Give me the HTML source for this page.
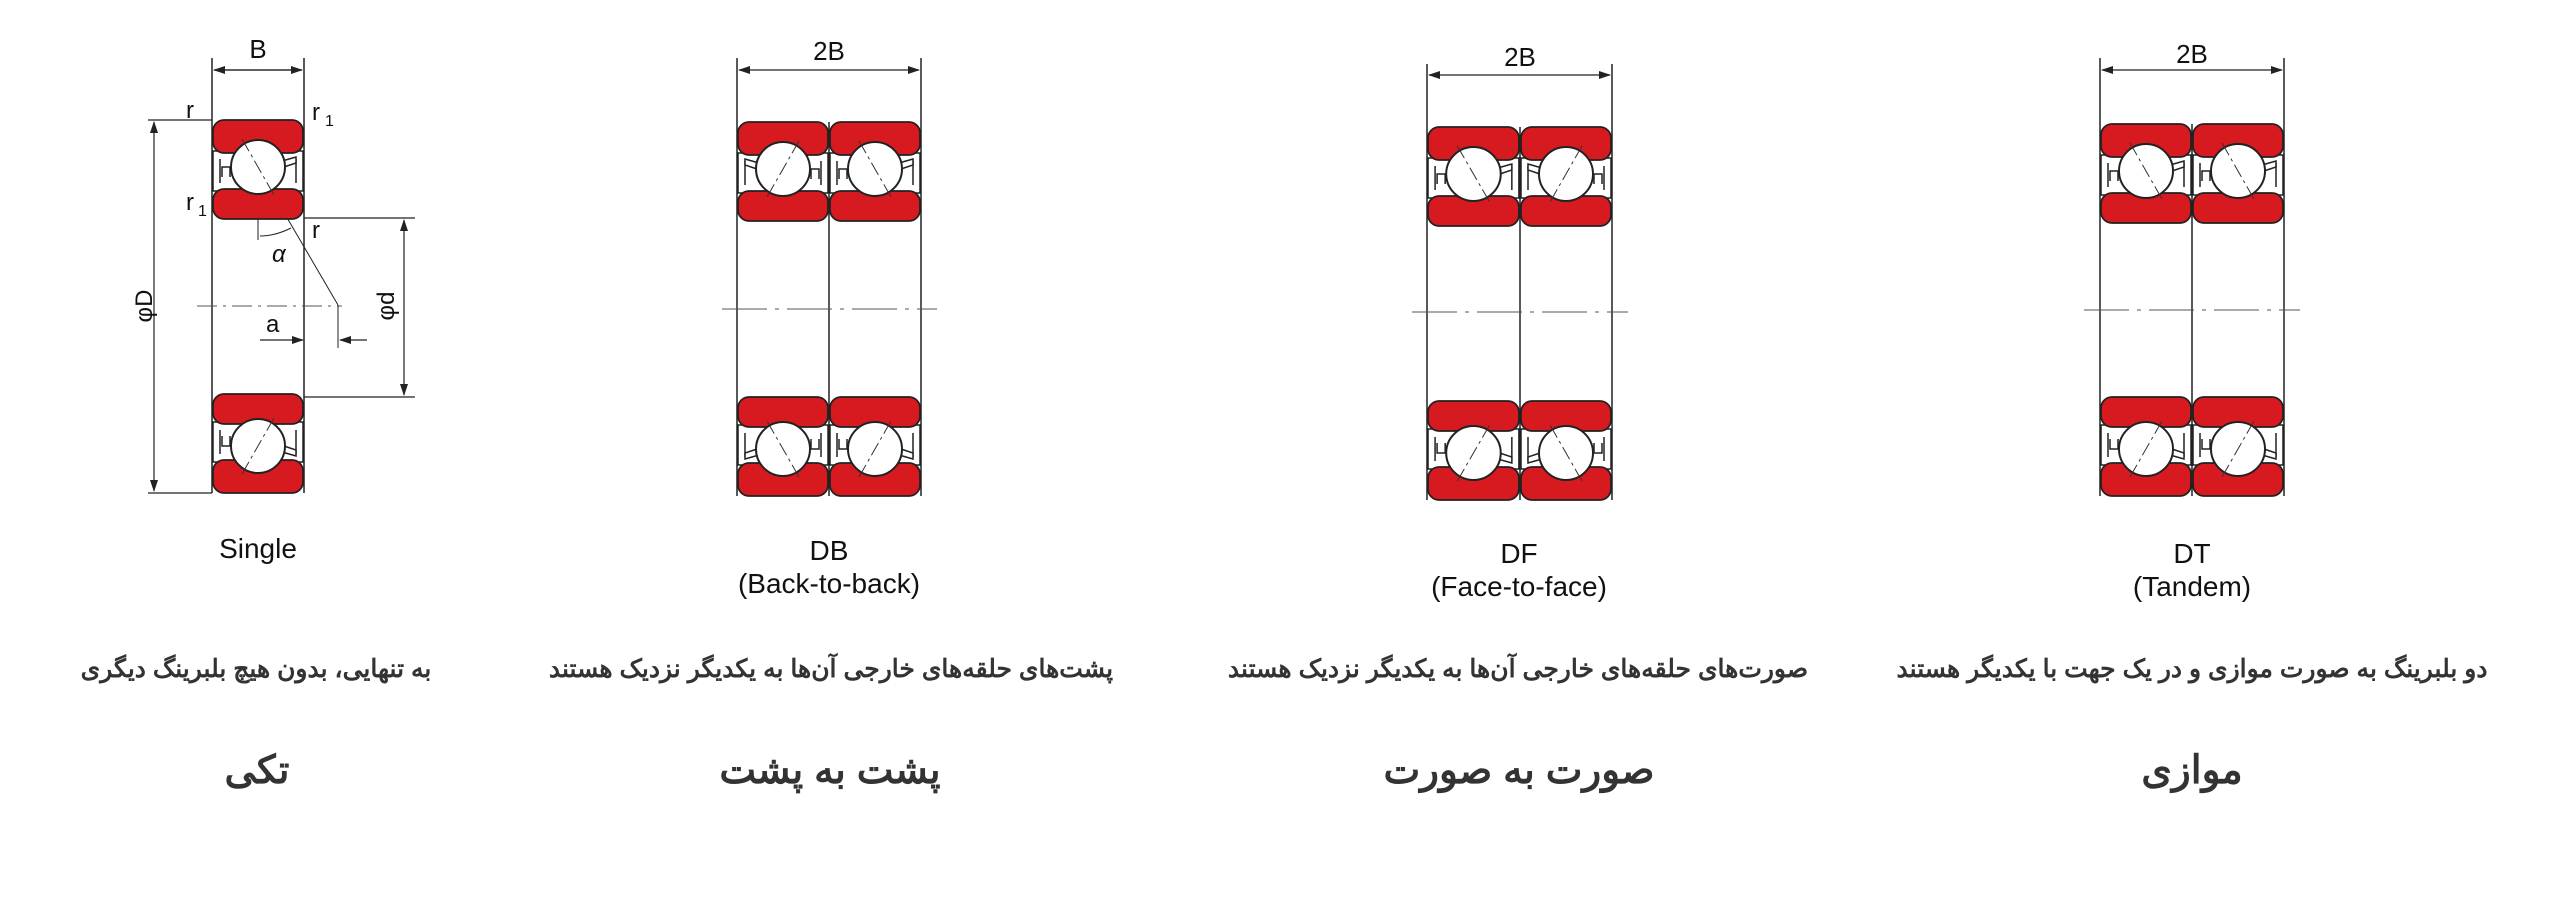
<!DOCTYPE html>
<html><head><meta charset="utf-8"><style>
html,body{margin:0;padding:0;background:#fff;}
body{width:2560px;height:910px;position:relative;overflow:hidden;font-family:"Liberation Sans",sans-serif;}
.t{position:absolute;transform:translateX(-50%);white-space:nowrap;color:#111;text-align:center;}
.lab{font-size:28px;line-height:33px;}
.fa{font-family:"Liberation Sans","Noto Sans CJK SC",sans-serif;direction:rtl;color:#333;}
.s{font-size:25px;font-weight:bold;top:654px;}
.h{font-size:39px;font-weight:bold;top:748px;}
</style></head><body>
<svg width="2560" height="910" style="position:absolute;left:0;top:0" xmlns="http://www.w3.org/2000/svg">
<defs>
<marker id="ar" markerWidth="12" markerHeight="8" refX="11" refY="4" orient="auto" markerUnits="userSpaceOnUse"><path d="M0,0 L12,4 L0,8 z" fill="#222"/></marker>
<g id="secA">
<rect x="1" y="32" width="90" height="40" fill="#fff" stroke="#222" stroke-width="1.5"/>
<path d="M8,40 v24 M84,40 v24" stroke="#222" stroke-width="1.5" fill="none"/>
<path d="M70,42 l14,-4 v6 l-12,4 z M10,58 v-10 h8 v10" stroke="#222" stroke-width="1.5" fill="#fff"/>
<rect x="1" y="1" width="90" height="33" rx="11" fill="#d71920" stroke="#222" stroke-width="1.8"/>
<rect x="1" y="70" width="90" height="30" rx="11" fill="#d71920" stroke="#222" stroke-width="1.8"/>
<circle cx="46" cy="48" r="27" fill="#fff" stroke="#222" stroke-width="2"/>
<path d="M30,20 L62,76" stroke="#333" stroke-width="1" stroke-dasharray="14,4,3,4"/>
</g>
<g id="secB"><use href="#secA" transform="translate(92,0) scale(-1,1)"/></g>
</defs>
<g stroke="#222" stroke-width="1.5" fill="none">
<!-- Single -->
<line x1="212" y1="120" x2="212" y2="493"/><line x1="304" y1="120" x2="304" y2="493"/>
<line x1="212" y1="58" x2="212" y2="120"/><line x1="304" y1="58" x2="304" y2="120"/>
<line x1="214" y1="70" x2="302" y2="70" marker-end="url(#ar)" stroke-width="1.2"/>
<line x1="302" y1="70" x2="214" y2="70" marker-end="url(#ar)" stroke-width="1.2"/>
<line x1="148" y1="120" x2="212" y2="120" stroke-width="1.2"/><line x1="148" y1="493" x2="212" y2="493" stroke-width="1.2"/>
<line x1="154" y1="300" x2="154" y2="122" marker-end="url(#ar)" stroke-width="1.2"/>
<line x1="154" y1="300" x2="154" y2="491" marker-end="url(#ar)" stroke-width="1.2"/>
<line x1="304" y1="218" x2="415" y2="218" stroke-width="1.2"/><line x1="304" y1="397" x2="415" y2="397" stroke-width="1.2"/>
<line x1="404" y1="300" x2="404" y2="220" marker-end="url(#ar)" stroke-width="1.2"/>
<line x1="404" y1="300" x2="404" y2="395" marker-end="url(#ar)" stroke-width="1.2"/>
<line x1="197" y1="306" x2="342" y2="306" stroke="#555" stroke-width="1" stroke-dasharray="20,6,3,6"/>
<line x1="258" y1="168" x2="338" y2="305" stroke-width="1"/>
<line x1="338" y1="305" x2="338" y2="348" stroke-width="1"/>
<line x1="260" y1="340" x2="303" y2="340" marker-end="url(#ar)" stroke-width="1.2"/>
<line x1="367" y1="340" x2="340" y2="340" marker-end="url(#ar)" stroke-width="1.2"/>
<line x1="258" y1="218" x2="258" y2="240" stroke-width="1"/>
<path d="M260,236 Q275,236 291,228" stroke-width="1"/>
<!-- DB -->
<line x1="737" y1="122" x2="737" y2="496"/><line x1="829" y1="122" x2="829" y2="496"/><line x1="921" y1="122" x2="921" y2="496"/>
<line x1="737" y1="58" x2="737" y2="122"/><line x1="921" y1="58" x2="921" y2="122"/>
<line x1="830" y1="70" x2="739" y2="70" marker-end="url(#ar)" stroke-width="1.2"/><line x1="830" y1="70" x2="919" y2="70" marker-end="url(#ar)" stroke-width="1.2"/>
<line x1="722" y1="309" x2="937" y2="309" stroke="#555" stroke-width="1" stroke-dasharray="45,8,4,8"/>
<!-- DF -->
<line x1="1427" y1="127" x2="1427" y2="500"/><line x1="1520" y1="127" x2="1520" y2="500"/><line x1="1612" y1="127" x2="1612" y2="500"/>
<line x1="1427" y1="64" x2="1427" y2="127"/><line x1="1612" y1="64" x2="1612" y2="127"/>
<line x1="1520" y1="75" x2="1429" y2="75" marker-end="url(#ar)" stroke-width="1.2"/><line x1="1520" y1="75" x2="1610" y2="75" marker-end="url(#ar)" stroke-width="1.2"/>
<line x1="1412" y1="312" x2="1628" y2="312" stroke="#555" stroke-width="1" stroke-dasharray="45,8,4,8"/>
<!-- DT -->
<line x1="2100" y1="124" x2="2100" y2="496"/><line x1="2192" y1="124" x2="2192" y2="496"/><line x1="2284" y1="124" x2="2284" y2="496"/>
<line x1="2100" y1="58" x2="2100" y2="124"/><line x1="2284" y1="58" x2="2284" y2="124"/>
<line x1="2192" y1="70" x2="2102" y2="70" marker-end="url(#ar)" stroke-width="1.2"/><line x1="2192" y1="70" x2="2282" y2="70" marker-end="url(#ar)" stroke-width="1.2"/>
<line x1="2084" y1="310" x2="2300" y2="310" stroke="#555" stroke-width="1" stroke-dasharray="45,8,4,8"/>
</g>
<!-- sections -->
<use href="#secA" transform="translate(212,119)"/>
<use href="#secA" transform="translate(212,494) scale(1,-1)"/>
<use href="#secB" transform="translate(737,121)"/>
<use href="#secA" transform="translate(829,121)"/>
<use href="#secB" transform="translate(737,497) scale(1,-1)"/>
<use href="#secA" transform="translate(829,497) scale(1,-1)"/>
<use href="#secA" transform="translate(1427,126) scale(1.01,1)"/>
<use href="#secB" transform="translate(1520,126)"/>
<use href="#secA" transform="translate(1427,501) scale(1.01,-1)"/>
<use href="#secB" transform="translate(1520,501) scale(1,-1)"/>
<use href="#secA" transform="translate(2100,123)"/>
<use href="#secA" transform="translate(2192,123)"/>
<use href="#secA" transform="translate(2100,497) scale(1,-1)"/>
<use href="#secA" transform="translate(2192,497) scale(1,-1)"/>
<g font-family="Liberation Sans" font-size="24" fill="#111">
<text x="186" y="118">r</text>
<text x="312" y="120">r</text><text x="325" y="126" font-size="16">1</text>
<text x="186" y="210">r</text><text x="198" y="216" font-size="16">1</text>
<text x="312" y="238">r</text>
<text x="272" y="262" font-style="italic">α</text>
<text x="266" y="332">a</text>
<text transform="translate(152,306) rotate(-90)" text-anchor="middle">φD</text>
<text transform="translate(394,306) rotate(-90)" text-anchor="middle">φd</text>
<text x="258" y="58" text-anchor="middle" font-size="26">B</text>
<text x="829" y="60" text-anchor="middle" font-size="26">2B</text>
<text x="1520" y="66" text-anchor="middle" font-size="26">2B</text>
<text x="2192" y="63" text-anchor="middle" font-size="26">2B</text>
</g>
</svg>
<div class="t lab" style="left:258px;top:532px">Single</div>
<div class="t lab" style="left:829px;top:534px">DB<br>(Back-to-back)</div>
<div class="t lab" style="left:1519px;top:537px">DF<br>(Face-to-face)</div>
<div class="t lab" style="left:2192px;top:537px">DT<br>(Tandem)</div>
<div class="t fa s" style="left:256px">به تنهایی، بدون هیچ بلبرینگ دیگری</div>
<div class="t fa s" style="left:831px">پشت‌های حلقه‌های خارجی آن‌ها به یکدیگر نزدیک هستند</div>
<div class="t fa s" style="left:1518px">صورت‌های حلقه‌های خارجی آن‌ها به یکدیگر نزدیک هستند</div>
<div class="t fa s" style="left:2192px">دو بلبرینگ به صورت موازی و در یک جهت با یکدیگر هستند</div>
<div class="t fa h" style="left:257px">تکی</div>
<div class="t fa h" style="left:830px">پشت به پشت</div>
<div class="t fa h" style="left:1519px">صورت به صورت</div>
<div class="t fa h" style="left:2192px">موازی</div>
</body></html>
